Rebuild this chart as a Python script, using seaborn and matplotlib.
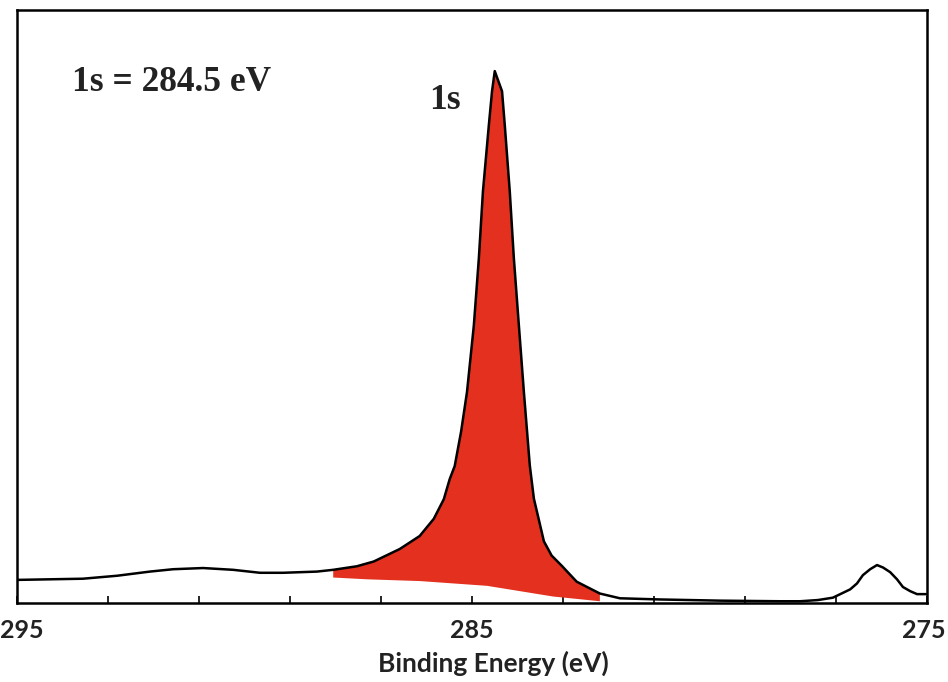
import matplotlib
matplotlib.use("Agg")
import matplotlib.pyplot as plt
from matplotlib.ticker import FixedLocator, NullFormatter
from matplotlib.transforms import ScaledTranslation, blended_transform_factory
import numpy as np
import pandas as pd
import seaborn as sns

# C 1s spectrum: binding energy (eV) and intensity (arbitrary units, 0-100)
ENERGY = [295.0, 293.55, 292.80, 292.08, 291.57, 290.91, 290.25, 289.66, 289.15,
          288.41, 288.05, 287.53, 287.16, 286.59, 286.15, 285.84, 285.62, 285.49,
          285.38, 285.24, 285.11, 284.96, 284.85, 284.76, 284.63, 284.56, 284.50,
          284.34, 284.28, 284.17, 284.08, 283.97, 283.86, 283.73, 283.64, 283.42,
          283.25, 283.03, 282.70, 282.19, 281.75, 280.87, 279.55, 278.23, 277.79,
          277.40, 277.07, 276.69, 276.54, 276.41, 276.25, 276.10, 275.97, 275.81,
          275.66, 275.53, 275.37, 275.22, 275.02]
INTENSITY = [3.9, 4.1, 4.6, 5.3, 5.7, 5.9, 5.6, 5.1, 5.1,
             5.3, 5.6, 6.2, 7.0, 9.1, 11.3, 14.2, 17.5, 20.9,
             23.1, 28.9, 35.6, 46.8, 58.1, 69.4, 80.6, 86.3, 89.7,
             86.3, 80.6, 69.4, 58.1, 46.8, 35.6, 23.2, 17.6, 10.4,
             8.0, 6.3, 3.6, 1.6, 0.8, 0.6, 0.4, 0.3, 0.3,
             0.5, 0.9, 2.3, 3.3, 4.7, 5.7, 6.4, 6.0, 5.2,
             4.0, 2.7, 2.0, 1.5, 1.5]

# lower edge of the highlighted 1s peak area
RED_BASE_E = [288.05, 287.31, 286.14, 284.67, 283.22, 282.19]
RED_BASE_I = [4.3, 4.0, 3.7, 2.9, 1.1, 0.3]

PEAK_LABEL = "1s"
PEAK_POSITION = 284.5
TICK_VALUES = [295, 285, 275]
TICK_LABELS = ["295", "285", "275"]
MINOR_TICKS = [293, 291, 289, 287, 283, 281, 279, 277]

sns.set_style("white")
plt.rcParams["font.family"] = ["Lato", "DejaVu Sans"]

df = pd.DataFrame({"Binding Energy (eV)": ENERGY, "Intensity": INTENSITY})

fig = plt.figure(figsize=(9.48, 6.82), dpi=100)
ax = fig.add_axes([0.0179, 0.1158, 0.960, 0.8695])

# highlighted area under the 1s peak
top = df[(df["Binding Energy (eV)"] <= RED_BASE_E[0]) &
         (df["Binding Energy (eV)"] >= RED_BASE_E[-1])]
poly_x = list(top["Binding Energy (eV)"]) + RED_BASE_E[::-1]
poly_y = list(top["Intensity"]) + RED_BASE_I[::-1]
ax.fill(poly_x, poly_y, color="#e3301f", lw=0, zorder=1)

sns.lineplot(data=df, x="Binding Energy (eV)", y="Intensity", color="black",
             lw=1.8, estimator=None, ax=ax, zorder=2)

ax.set_xlim(295, 275)
ax.set_ylim(0, 100)

ax.xaxis.set_major_locator(FixedLocator(TICK_VALUES))
ax.xaxis.set_major_formatter(NullFormatter())
ax.xaxis.set_minor_locator(FixedLocator(MINOR_TICKS))
ax.tick_params(axis="x", which="both", direction="in", length=5, width=1.2,
               color="black", bottom=True, top=False)
ax.tick_params(axis="y", left=False, labelleft=False)
ax.set_ylabel("")

# tick labels, nudged so the end ones stay inside the figure
trans = blended_transform_factory(ax.transData, ax.transAxes)
nudges = [5, 0, -3]
for v, s, dx in zip(TICK_VALUES, TICK_LABELS, nudges):
    ax.text(v, -0.0455, s, ha="center", va="center", fontsize=18,
            fontweight="bold", color="#222222", clip_on=False,
            transform=trans + ScaledTranslation(dx / 100, 0, fig.dpi_scale_trans))

ax.set_xlabel("Binding Energy (eV)", fontsize=19, fontweight="bold",
              color="#222222")
ax.xaxis.set_label_coords(0.523, -0.081)

for s in ax.spines.values():
    s.set_visible(True)
    s.set_color("black")
    s.set_linewidth(1.8)

serif = ["Liberation Serif", "DejaVu Serif"]
ax.text(0.060, 0.877, f"{PEAK_LABEL} = {PEAK_POSITION} eV", transform=ax.transAxes,
        ha="left", va="center", fontsize=25.5, fontweight="bold", family=serif,
        color="#222222")
ax.text(0.470, 0.848, PEAK_LABEL, transform=ax.transAxes, ha="center",
        va="center", fontsize=25.5, fontweight="bold", family=serif, color="#222222")

fig.savefig("out.png", dpi=100, facecolor="white")
